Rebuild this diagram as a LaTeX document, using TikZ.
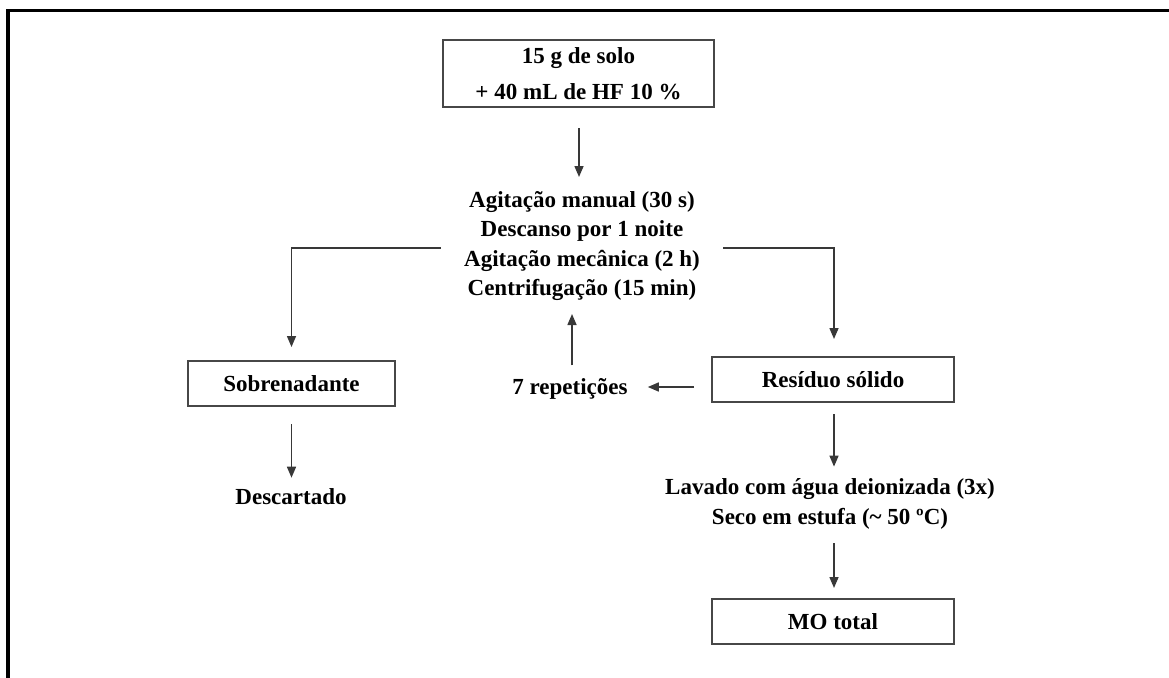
\documentclass[tikz,border=0pt]{standalone}
\usepackage{fontspec}
\setmainfont{Liberation Serif}
\usetikzlibrary{arrows.meta}
\tikzset{
  x=1pt, y=-1pt,
  txt/.style={font=\bfseries\fontsize{23}{29.5}\selectfont, inner sep=0pt, align=center, text=black},
  bx/.style={txt, draw=black!72, line width=2pt, minimum height=45pt},
  arr/.style={draw=black!78, line width=1.5pt, -{Triangle[length=11pt,width=9pt]}},
  frame/.style={line width=3.6pt, black, line join=miter}
}
\begin{document}
\begin{tikzpicture}
\useasboundingbox (0,0) rectangle (1169,677);
\draw[frame] (8,680) -- (8,10.7) -- (1172,10.7);

\node[bx, minimum width=271pt, minimum height=67pt] (top) at (578.5,73.5) {15 g de solo\\[6pt]+ 40 mL de HF 10 \%};
\node[txt] (mid) at (582,246) {Agitação manual (30 s)\\Descanso por 1 noite\\Agitação mecânica (2 h)\\Centrifugação (15 min)};
\node[bx, minimum width=207pt] (sob) at (291.5,383.5) {Sobrenadante};
\node[bx, minimum width=242pt] (res) at (833,379.5) {Resíduo sólido};
\node[txt] (rep) at (570,389) {7 repetições};
\node[txt] (desc) at (291,497) {Descartado};
\node[txt] (lav) at (830,504) {Lavado com água deionizada (3x)\\Seco em estufa (\textasciitilde{} 50 ºC)};
\node[bx, minimum width=242pt] (mo) at (833,621.5) {MO total};

\draw[arr, shorten <=20pt, shorten >=14pt] ([xshift=0.5pt]top.south) -- ([xshift=0.5pt]top.south |- mid.north);
\draw[arr, shorten <=23pt, shorten >=13pt] ([yshift=-2pt]mid.west) -| (sob.north);
\draw[arr, shorten <=23pt, shorten >=17pt] ([yshift=-2pt]mid.east) -| ([xshift=1pt]res.north);
\draw[arr, shorten <=17pt, shorten >=20pt] ([yshift=-7.5pt]res.west) -- ([yshift=-7.5pt]res.west -| rep.east);
\draw[arr, shorten <=13pt, shorten >=13pt] ([xshift=2pt]rep.north) -- ([xshift=2pt]rep.north |- mid.south);
\draw[arr, shorten <=17pt, shorten >=11pt] (sob.south) -- (sob.south |- desc.north);
\draw[arr, shorten <=11pt, shorten >=12pt] ([xshift=1pt]res.south) -- ([xshift=1pt]res.south |- lav.north);
\draw[arr, shorten <=14pt, shorten >=10pt] ([xshift=1pt]lav.south -| mo.north) -- ([xshift=1pt]mo.north);
\end{tikzpicture}
\end{document}
